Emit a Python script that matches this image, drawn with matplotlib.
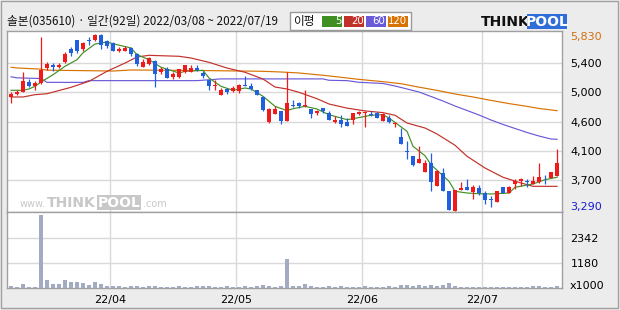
import numpy as np
import matplotlib
matplotlib.use('Agg')
import matplotlib.pyplot as plt
from matplotlib.patches import Rectangle


KR = ['Noto Sans CJK KR', 'DejaVu Sans']
W, H = 620, 310

TITLE = '솔본(035610) · 일간(92일) 2022/03/08 ~ 2022/07/19'
LEGEND_TITLE = '이평'

# daily candles, 2022/03/08 .. 2022/07/19 (92 sessions)
opens = [4920, 4970, 5000, 5140, 5090, 5120, 5340, 5390, 5350, 5430,
         5610, 5740, 5610, 5740, 5740, 5810, 5730, 5700, 5590, 5590,
         5630, 5540, 5360, 5400, 5440, 5290, 5330, 5210, 5210, 5290,
         5290, 5340, 5270, 5170, 5090, 4960, 5040, 5010, 5010, 5090,
         5090, 5020, 4930, 4560, 4680, 4730, 4580, 4810, 4840, 4800,
         4750, 4690, 4770, 4700, 4570, 4600, 4570, 4600, 4680, 4700,
         4680, 4690, 4580, 4620, 4530, 4350, 4150, 4080, 3970, 3840,
         3980, 3650, 3830, 3570, 3290, 3590, 3630, 3560, 3620, 3550,
         3460, 3410, 3630, 3540, 3680, 3720, 3720, 3670, 3700, 3780,
         3760, 3790]
highs = [5000, 5030, 5280, 5180, 5150, 5780, 5430, 5420, 5420, 5570,
         5640, 5740, 5720, 5790, 5830, 5830, 5740, 5710, 5650, 5660,
         5640, 5550, 5470, 5500, 5450, 5350, 5350, 5280, 5320, 5390,
         5390, 5380, 5300, 5170, 5170, 5060, 5060, 5090, 5110, 5220,
         5130, 5030, 4940, 4770, 4790, 4730, 5290, 4880, 4850, 5020,
         4750, 4740, 4770, 4730, 4650, 4660, 4630, 4700, 4730, 4730,
         4720, 4710, 4700, 4660, 4560, 4480, 4290, 4080, 4220, 4020,
         4120, 3870, 3900, 3570, 3590, 3710, 3750, 3660, 3660, 3570,
         3500, 3580, 3630, 3640, 3740, 3760, 3750, 3790, 3980, 3810,
         3850, 4180]
lows = [4840, 4950, 5000, 5070, 5030, 5110, 5310, 5300, 5340, 5420,
        5510, 5560, 5580, 5670, 5730, 5610, 5630, 5580, 5570, 5590,
        5520, 5370, 5350, 5390, 5070, 5250, 5200, 5190, 5200, 5270,
        5290, 5300, 5200, 5020, 5030, 4960, 4970, 5000, 4980, 5080,
        5030, 4960, 4720, 4550, 4680, 4530, 4580, 4780, 4770, 4780,
        4620, 4670, 4700, 4600, 4550, 4490, 4510, 4540, 4660, 4490,
        4650, 4620, 4580, 4550, 4490, 4250, 4040, 3940, 3970, 3840,
        3570, 3650, 3570, 3300, 3290, 3590, 3590, 3460, 3520, 3380,
        3340, 3410, 3540, 3540, 3600, 3640, 3630, 3670, 3690, 3680,
        3760, 3790]
closes = [4970, 5000, 5150, 5090, 5120, 5310, 5400, 5350, 5390, 5540,
          5560, 5580, 5700, 5730, 5810, 5670, 5660, 5590, 5610, 5630,
          5540, 5400, 5430, 5490, 5260, 5320, 5200, 5250, 5320, 5380,
          5340, 5310, 5220, 5090, 5100, 5020, 5000, 5060, 5100, 5080,
          5040, 4960, 4740, 4750, 4750, 4580, 4840, 4800, 4800, 4810,
          4680, 4730, 4720, 4600, 4590, 4530, 4510, 4700, 4710, 4710,
          4660, 4630, 4680, 4560, 4550, 4250, 4140, 3950, 4030, 3980,
          3700, 3860, 3570, 3300, 3590, 3620, 3590, 3630, 3540, 3450,
          3440, 3580, 3540, 3630, 3720, 3750, 3710, 3720, 3780, 3770,
          3850, 3980]
# volume, x1000 shares
volumes = [107, 60, 200, 60, 60, 3410, 387, 200, 217, 387,
           294, 294, 248, 155, 294, 200, 108, 108, 108, 60,
           108, 108, 60, 108, 108, 60, 60, 60, 108, 60,
           60, 108, 108, 108, 60, 60, 108, 60, 60, 108,
           60, 108, 155, 108, 60, 108, 1364, 108, 108, 200,
           108, 60, 60, 108, 60, 108, 60, 60, 60, 108,
           60, 60, 60, 108, 60, 155, 155, 108, 155, 108,
           155, 108, 155, 248, 108, 60, 60, 60, 60, 60,
           60, 60, 60, 60, 60, 60, 60, 108, 108, 60,
           60, 108]

# moving averages (session index, price)
ma5_idx = [0, 2, 3, 4, 5, 7, 9, 11, 12, 14, 16, 17, 20, 21, 23, 25, 28, 29,
           32, 33, 35, 37, 39, 40, 42, 44, 46, 47, 49, 51, 53, 56, 57, 60,
           62, 63, 66, 67, 69, 70, 73, 74, 76, 78, 80, 83, 84, 87, 89, 91]
ma5_val = [5021, 5021, 5040, 5078, 5140, 5245, 5366, 5461, 5560, 5686, 5715,
           5690, 5629, 5533, 5461, 5352, 5270, 5294, 5308, 5198, 5078, 5021,
           5054, 5040, 4935, 4791, 4728, 4757, 4791, 4752, 4670, 4599, 4613,
           4662, 4670, 4623, 4432, 4216, 4081, 3952, 3713, 3570, 3545, 3535,
           3531, 3545, 3627, 3675, 3737, 3771]
ma20_idx = [0, 2, 4, 6, 10, 13, 16, 19, 21, 23, 25, 28, 30, 33, 36, 39, 42,
            44, 46, 48, 51, 53, 56, 59, 62, 64, 66, 69, 71, 74, 76, 79, 82,
            85, 87, 91]
ma20_val = [4925, 4925, 4958, 4972, 5064, 5150, 5294, 5413, 5500, 5524, 5518,
            5510, 5485, 5423, 5341, 5280, 5183, 5068, 5040, 4992, 4900, 4824,
            4765, 4725, 4700, 4662, 4551, 4479, 4393, 4231, 4073, 3904, 3771,
            3689, 3641, 3641]
ma60_idx = [0, 1, 5, 6, 12, 13, 31, 35, 52, 53, 56, 58, 62, 64, 66, 68, 70,
            72, 74, 76, 78, 80, 82, 84, 86, 88, 90, 91]
ma60_val = [5215, 5200, 5190, 5135, 5135, 5160, 5160, 5185, 5185, 5165, 5160,
            5136, 5119, 5083, 5040, 4997, 4932, 4867, 4795, 4731, 4666, 4594,
            4530, 4472, 4415, 4364, 4321, 4317]
ma120_idx = [0, 1, 5, 6, 11, 17, 20, 32, 42, 45, 48, 52, 55, 58, 62, 65, 68,
             71, 74, 77, 80, 83, 86, 88, 91]
ma120_val = [5352, 5342, 5325, 5310, 5305, 5298, 5313, 5305, 5294, 5284, 5270,
             5237, 5208, 5178, 5145, 5116, 5066, 5020, 4968, 4925, 4876, 4830,
             4790, 4760, 4728]

month_start = [17, 38, 59, 79]
month_labels = ['22/04', '22/05', '22/06', '22/07']

price_grid = [5413, 4992, 4571, 4144, 3728]
price_labels = ['5,400', '5,000', '4,600', '4,100', '3,700']
vol_grid = [1180, 2342]
vol_labels = ['1180', '2342']
ma_names = ['5', '20', '60', '120']

RED = '#f01a1a'
BLUE = '#2060e0'
MA_COLORS = ['#3f8f22', '#c2302a', '#6a5ad8', '#d87200']
GRID = '#d9d9d9'
FRAME = '#a0a0a0'


def px_box(x0, y0, x1, y1):
    return [x0 / W, 1 - y1 / H, (x1 - x0) / W, (y1 - y0) / H]


def draw_candles(ax):
    x = np.arange(len(closes))
    o = np.array(opens)
    c = np.array(closes)
    cols = np.where(c >= o, RED, BLUE)
    ax.vlines(x, lows, highs, colors=cols, lw=0.9, zorder=3)
    h = np.abs(c - o)
    bottom = np.where(h < 14, (o + c) / 2 - 7, np.minimum(o, c))
    ax.bar(x, np.maximum(h, 14), bottom=bottom, width=0.68, color=cols,
           linewidth=0, zorder=4)


def draw_header(fig):
    fig.text(7 / W, 1 - 21.5 / H, TITLE, family=KR, fontsize=8.4,
             va='center', ha='left', color='#111111')
    fig.patches.append(Rectangle((290 / W, 1 - 30 / H), 121 / W, 18 / H,
                                 transform=fig.transFigure, fc='white',
                                 ec='#9a9a9a', lw=1))
    fig.text(293 / W, 1 - 21.5 / H, LEGEND_TITLE, family=KR, fontsize=8.4,
             va='center', ha='left', color='#111111')
    for k, (name, col) in enumerate(zip(ma_names, MA_COLORS)):
        x0 = 322 + 22 * k
        fig.patches.append(Rectangle((x0 / W, 1 - 27 / H), 20 / W, 11 / H,
                                     transform=fig.transFigure, fc=col,
                                     ec='none'))
        fig.text((x0 + 19.5) / W, 1 - 21.5 / H, name, fontsize=7.3,
                 va='center', ha='right', color='white')
    # logo
    fig.text(481 / W, 1 - 22 / H, 'THINK', fontsize=10, weight='bold',
             va='center', ha='left', color='#111111')
    fig.patches.append(Rectangle((527 / W, 1 - 29 / H), 40 / W, 15 / H,
                                 transform=fig.transFigure, fc='#2f6ed8',
                                 ec='none'))
    fig.text(547 / W, 1 - 22 / H, 'POOL', fontsize=10, weight='bold',
             va='center', ha='center', color='white')
    # outer frame
    fig.patches.append(Rectangle((1 / W, 1 - 308 / H), 617 / W, 307 / H,
                                 transform=fig.transFigure, fc='none',
                                 ec=FRAME, lw=1))


def draw_watermark(fig):
    wm = '#c8c8c8'
    fig.text(20 / W, 1 - 204 / H, 'www.', fontsize=7, va='center',
             ha='left', color=wm)
    fig.text(47 / W, 1 - 203 / H, 'THINK', fontsize=10, weight='bold',
             va='center', ha='left', color=wm)
    fig.patches.append(Rectangle((97 / W, 1 - 210 / H), 44 / W, 15 / H,
                                 transform=fig.transFigure, fc=wm,
                                 ec='none', zorder=5))
    fig.text(119 / W, 1 - 203 / H, 'POOL', fontsize=10, weight='bold',
             va='center', ha='center', color='white', zorder=6)
    fig.text(143 / W, 1 - 204 / H, '.com', fontsize=7, va='center',
             ha='left', color=wm)


fig = plt.figure(figsize=(W / 100, H / 100), dpi=100, facecolor='#ececec')
ax = fig.add_axes(px_box(7, 31.3, 562, 212))
axv = fig.add_axes(px_box(7, 212, 562, 288.3), sharex=ax)

for a in (ax, axv):
    a.set_facecolor('white')
    for s in a.spines.values():
        s.set_color(FRAME)
        s.set_linewidth(1)
    a.tick_params(length=0, labelsize=8)
    a.yaxis.tick_right()
    a.grid(color=GRID, lw=1)
    a.set_axisbelow(True)

x_month = [m - 0.5 for m in month_start]

# price panel
for idx, val, col in zip([ma120_idx, ma60_idx, ma20_idx, ma5_idx],
                         [ma120_val, ma60_val, ma20_val, ma5_val],
                         MA_COLORS[::-1]):
    ax.plot(idx, val, color=col, lw=0.85, zorder=2)
draw_candles(ax)
ax.set_xlim(-0.67, 91.83)
ax.set_ylim(3272, 5869)
ax.set_yticks(price_grid)
ax.set_yticklabels(price_labels)
ax.tick_params(axis='y', pad=6)
ax.set_xticks(x_month)
ax.tick_params(axis='x', labelbottom=False)
hi = max(highs)
lo = min(lows)
ax.annotate('{:,}'.format(hi), (1, hi), xycoords=('axes fraction', 'data'),
            xytext=(6, -2), textcoords='offset points', fontsize=8,
            va='center', color='#d07010', annotation_clip=False)
ax.annotate('{:,}'.format(lo), (1, lo), xycoords=('axes fraction', 'data'),
            xytext=(6, 3), textcoords='offset points', fontsize=8,
            va='center', color='#1a1ad0', annotation_clip=False)

# volume panel
axv.bar(np.arange(len(volumes)), volumes, width=0.82, color='#a3abc3',
        linewidth=0, zorder=3)
axv.set_ylim(0, 3548)
axv.set_yticks(vol_grid)
axv.set_yticklabels(vol_labels)
axv.tick_params(axis='y', pad=6)
axv.set_xticks(x_month)
axv.set_xticklabels(month_labels)
axv.tick_params(axis='x', pad=5)
axv.text(1 + 8 / 555, 2 / 76, 'x1000', transform=axv.transAxes, fontsize=8,
         va='center', ha='left')

draw_header(fig)
draw_watermark(fig)

fig.savefig('out.png', dpi=100, facecolor=fig.get_facecolor())
